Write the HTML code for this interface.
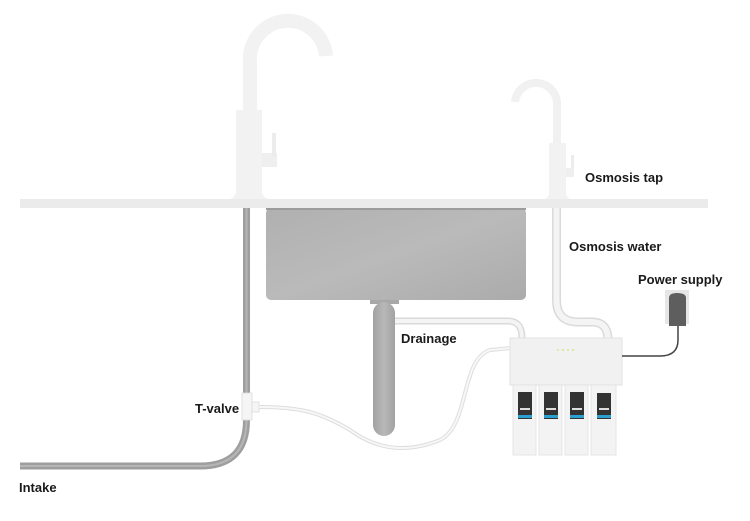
<!DOCTYPE html>
<html><head><meta charset="utf-8"><style>
html,body{margin:0;padding:0;background:#fff;width:750px;height:521px;overflow:hidden}
svg{display:block}
text{font-family:"Liberation Sans",sans-serif;font-size:13px;font-weight:bold;fill:#1a1a1a}
</style></head><body>
<svg width="750" height="521" viewBox="0 0 750 521" xmlns="http://www.w3.org/2000/svg">
<defs>
<linearGradient id="sink" x1="0" y1="0" x2="1" y2="1"><stop offset="0" stop-color="#b0b0b0"/><stop offset="0.5" stop-color="#bababa"/><stop offset="1" stop-color="#ababab"/></linearGradient>
<linearGradient id="drain" x1="0" y1="0" x2="1" y2="0"><stop offset="0" stop-color="#a2a2a2"/><stop offset="0.5" stop-color="#b8b8b8"/><stop offset="1" stop-color="#a2a2a2"/></linearGradient>
</defs>
<!-- intake pipe -->
<path d="M246.5 208 V420 Q246.5 466 200 466 H20" fill="none" stroke="#9e9e9e" stroke-width="7"/>
<path d="M246.5 208 V420 Q246.5 466 200 466 H20" fill="none" stroke="#b6b6b6" stroke-width="2"/>
<!-- T-valve -->
<rect x="242" y="393" width="10" height="27" fill="#f5f5f5" stroke="#dcdcdc" stroke-width="0.8"/>
<rect x="252" y="402" width="7" height="10" fill="#f5f5f5" stroke="#dcdcdc" stroke-width="0.8"/>
<!-- white supply tube -->
<path d="M259 407 C300 407 320 412 350 430 C380 452 410 452 440 440 C470 425 460 360 490 350 L512 348" fill="none" stroke="#dedede" stroke-width="4"/>
<path d="M259 407 C300 407 320 412 350 430 C380 452 410 452 440 440 C470 425 460 360 490 350 L512 348" fill="none" stroke="#f7f7f7" stroke-width="2"/>
<!-- sink -->
<rect x="266" y="208" width="260" height="92" rx="5" fill="url(#sink)"/>
<rect x="266" y="208" width="260" height="2" fill="#9c9c9c"/>
<!-- drain -->
<rect x="370" y="300" width="29" height="4" fill="#a8a8a8"/>
<rect x="373" y="302" width="22" height="134" rx="11" fill="url(#drain)"/>
<!-- drainage tube -->
<path d="M395 321 H508 Q522 321 522 338" fill="none" stroke="#dadada" stroke-width="7"/>
<path d="M395 321 H508 Q522 321 522 338" fill="none" stroke="#f4f4f4" stroke-width="4"/>
<!-- osmosis water pipe -->
<path d="M556.5 208 V300 Q556.5 322 578 322 H592 Q608 322 608 340" fill="none" stroke="#dadada" stroke-width="9"/>
<path d="M556.5 208 V300 Q556.5 322 578 322 H592 Q608 322 608 340" fill="none" stroke="#f4f4f4" stroke-width="6"/>
<!-- countertop -->
<rect x="20" y="199" width="688" height="9" fill="#ebebeb"/>
<!-- big faucet -->
<path d="M250 112 V62 A37 37 0 0 1 326 56" fill="none" stroke="#f2f2f2" stroke-width="14"/>
<path d="M236 110 H262 V190 Q262 197 268 199 H230 Q236 197 236 190 Z" fill="#f2f2f2"/>
<rect x="262" y="153" width="15" height="14" fill="#efefef"/>
<rect x="272" y="133" width="4" height="24" fill="#ececec"/>
<!-- small faucet -->
<path d="M557 145 V106 A21 21 0 0 0 515 102" fill="none" stroke="#f1f1f1" stroke-width="8"/>
<path d="M549 143 H566 V193 Q566 197 570 199 H545 Q549 197 549 193 Z" fill="#f2f2f2"/>
<rect x="566" y="168" width="8" height="9" fill="#efefef"/>
<rect x="571" y="155" width="3" height="14" fill="#ececec"/>
<!-- filter box -->
<rect x="510" y="338" width="112" height="47" fill="#f1f1f1" stroke="#e2e2e2" stroke-width="1"/>
<circle cx="558" cy="350" r="1" fill="#d7e68a"/><circle cx="563" cy="350" r="1" fill="#d7e68a"/><circle cx="568" cy="350" r="1" fill="#d7e68a"/><circle cx="573" cy="350" r="1" fill="#d7e68a"/>
<g fill="#f3f3f3" stroke="#e0e0e0" stroke-width="0.8">
<rect x="513" y="385" width="23" height="70"/>
<rect x="539" y="385" width="23" height="70"/>
<rect x="565" y="385" width="23" height="70"/>
<rect x="591" y="385" width="25" height="70"/>
</g>
<g fill="#333">
<rect x="518" y="392" width="14" height="27"/>
<rect x="544" y="392" width="14" height="27"/>
<rect x="570" y="392" width="14" height="27"/>
<rect x="597" y="393" width="14" height="26"/>
</g>
<g fill="#ddd">
<rect x="520" y="408" width="10" height="2"/><rect x="546" y="408" width="10" height="2"/><rect x="572" y="408" width="10" height="2"/><rect x="599" y="408" width="10" height="2"/>
</g>
<g fill="#2a9fd0">
<rect x="518" y="415" width="14" height="3"/>
<rect x="544" y="415" width="14" height="3"/>
<rect x="570" y="415" width="14" height="3"/>
<rect x="597" y="415" width="14" height="3"/>
</g>
<!-- power -->
<rect x="665" y="290" width="24" height="34" fill="#e6e6e6"/>
<path d="M669 298 Q669 293 677 293 Q686 293 686 298 V326 H669 Z" fill="#5e5e5e"/>
<path d="M678 326 V340 Q678 356 660 356 H622" fill="none" stroke="#444" stroke-width="1.5"/>
<!-- labels -->
<text x="585" y="182">Osmosis tap</text>
<text x="569" y="251">Osmosis water</text>
<text x="638" y="284">Power supply</text>
<text x="401" y="343">Drainage</text>
<text x="195" y="413">T-valve</text>
<text x="19" y="492">Intake</text>
</svg>
</body></html>
